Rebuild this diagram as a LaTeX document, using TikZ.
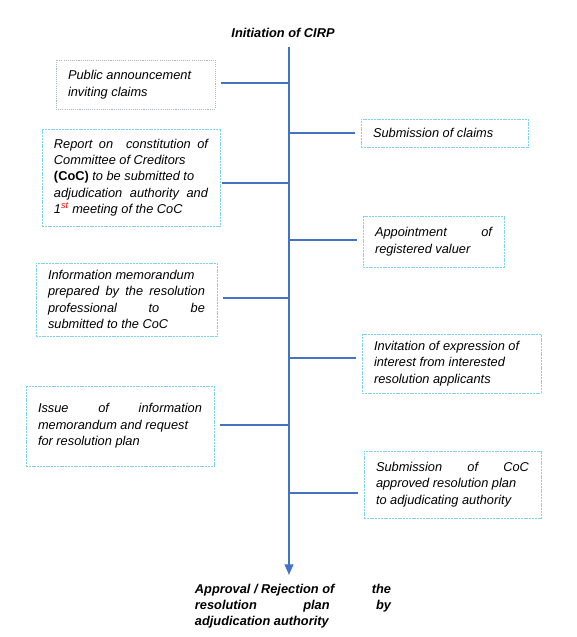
\documentclass[tikz,border=0pt]{standalone}
\usepackage{fontspec}
\setmainfont{Liberation Sans}
\usetikzlibrary{arrows.meta}
\definecolor{linkblue}{HTML}{4472C4}
\definecolor{boxblue}{HTML}{7FD3F3}
\definecolor{boxgray}{HTML}{A9B6C6}

\begin{document}
\begin{tikzpicture}[x=0.75pt,y=-0.75pt]
			\tikzstyle{stage} = [draw=boxblue, line width=0.7pt, dash pattern=on 1.5pt off 0.6pt, inner xsep=9pt, inner ysep=2pt, align=justify, font=\fontsize{9.6}{12.3}\selectfont\itshape]
			\tikzstyle{branch} = [draw=linkblue, line width=0.9pt, shorten >=4.5pt]
			\tikzstyle{heading} = [font=\fontsize{9.6}{12}\selectfont\bfseries\itshape]
			\useasboundingbox (0,0) rectangle (577,637);
			% spine
			\node[heading] (start) at (283,33) {Initiation of CIRP};
			\coordinate (top) at (289,47);
			\coordinate (bottom) at (289,575);
			\draw[draw=linkblue, line width=1.5pt, -{Triangle[width=6.5pt,length=8pt]}] (top) -- (bottom);
			\node[heading, text width=147pt, align=justify] (end) at (293,606)
				{Approval / Rejection of\hfill the \linebreak resolution plan by \linebreak adjudication authority};
			% left side
			\node[stage, draw=boxgray, dash pattern=on 0.8pt off 0.8pt, text width=101.25pt, minimum height=36.75pt] (b1) at (135.5,84.5)
				{Public announcement\\ inviting claims};
			\node[stage, text width=115.5pt, minimum height=72.75pt] (b3) at (131,177.5)
				{Report on\ \ constitution of \linebreak Committee of Creditors\\ {\bfseries\upshape(CoC)} to be submitted to\\ adjudication authority and \linebreak 1\textsuperscript{\color{red}st} meeting of the CoC};
			\node[stage, text width=117.75pt, minimum height=54.75pt] (b5) at (126.5,299.5)
				{Information memorandum\\ prepared by the resolution \linebreak professional to be \linebreak submitted to the CoC};
			\node[stage, text width=123pt, minimum height=60pt] (b7) at (120,426)
				{Issue of information \linebreak memorandum and request\\ for resolution plan\par\vspace{12pt}};
			% right side
			\node[stage, text width=107.25pt, minimum height=21pt] (b2) at (444.5,133)
				{Submission of claims};
			\node[stage, text width=87.75pt, minimum height=38.25pt] (b4) at (433.5,241.5)
				{Appointment of \linebreak registered valuer};
			\node[stage, text width=116.25pt, minimum height=44.25pt] (b6) at (451.5,363.5)
				{Invitation of expression of\\ interest from interested\\ resolution applicants};
			\node[stage, text width=114.75pt, minimum height=50.25pt] (b8) at (452.5,484.5)
				{Submission of CoC \linebreak approved resolution plan\\ to adjudicating authority};
			% branches
			\coordinate (j1) at (289,83);
			\coordinate (j2) at (289,133);
			\coordinate (j3) at (289,183);
			\coordinate (j4) at (289,240);
			\coordinate (j5) at (289,298);
			\coordinate (j6) at (289,358);
			\coordinate (j7) at (289,425);
			\coordinate (j8) at (289,493);
			\draw[branch] (j1) -- (j1 -| b1.east);
			\draw[branch] (j2) -- (j2 -| b2.west);
			\draw[branch, shorten >=1.5pt] (j3) -- (j3 -| b3.east);
			\draw[branch] (j4) -- (j4 -| b4.west);
			\draw[branch] (j5) -- (j5 -| b5.east);
			\draw[branch] (j6) -- (j6 -| b6.west);
			\draw[branch] (j7) -- (j7 -| b7.east);
			\draw[branch] (j8) -- (j8 -| b8.west);
\end{tikzpicture}
\end{document}
